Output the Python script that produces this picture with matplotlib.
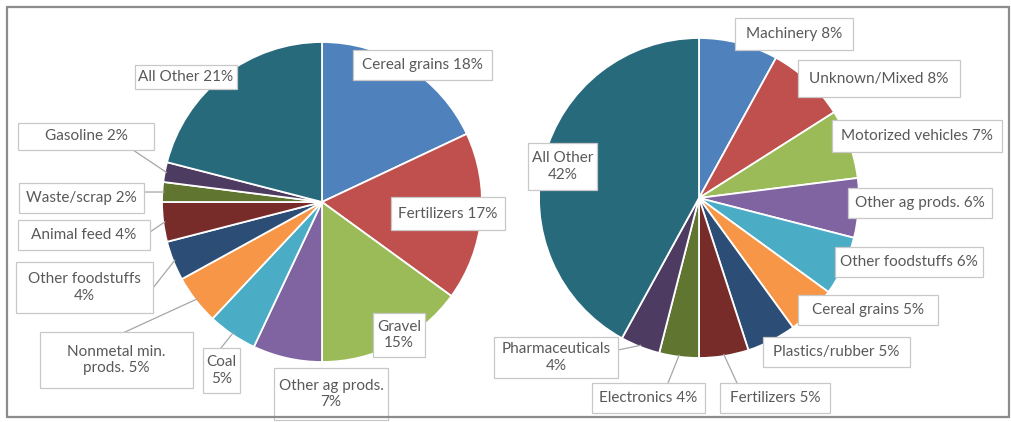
import numpy as np
import matplotlib.pyplot as plt
from matplotlib.patches import Rectangle

plt.rcParams.update({"font.family": ["Lato", "DejaVu Sans"]})
plt.rcParams.update({"font.size": 11})

# commodity shares, left and right pies (clockwise from 12 o'clock)
left_names = [
    "Cereal grains", "Fertilizers", "Gravel", "Other ag prods.", "Coal",
    "Nonmetal min.\nprods.", "Other foodstuffs", "Animal feed",
    "Waste/scrap", "Gasoline", "All Other",
]
left_values = [18, 17, 15, 7, 5, 5, 4, 4, 2, 2, 21]

right_names = [
    "Machinery", "Unknown/Mixed", "Motorized vehicles", "Other ag prods.",
    "Other foodstuffs", "Cereal grains", "Plastics/rubber", "Fertilizers",
    "Electronics", "Pharmaceuticals", "All Other",
]
right_values = [8, 8, 7, 6, 6, 5, 5, 5, 4, 4, 42]

colors = [
    "#4F81BD", "#C0504D", "#9BBB59", "#8064A2", "#4BACC6", "#F79646",
    "#2C4D75", "#772C2A", "#5F7530", "#4D3B62", "#276A7C",
]

W, H = 1011, 422

# label boxes in pixels (x0, y0 from top, x1, y1), value on new line?, leader start
left_boxes = [
    (353, 50, 492, 80, False, None),
    (391, 197, 505, 230, False, None),
    (373, 313, 425, 357, True, None),
    (274, 368, 388, 420, True, None),
    (203, 348, 240, 393, True, (221, 348)),
    (40, 332, 193, 388, False, (125, 332)),
    (16, 262, 153, 313, True, (153, 288)),
    (18, 220, 150, 250, False, (150, 232)),
    (19, 183, 144, 213, False, (144, 192)),
    (18, 123, 154, 150, False, (133, 150)),
    (135, 65, 237, 89, False, None),
]
right_boxes = [
    (735, 18, 853, 50, False, None),
    (798, 60, 960, 97, False, None),
    (832, 120, 1002, 152, False, None),
    (848, 188, 992, 218, False, None),
    (835, 247, 983, 277, False, None),
    (798, 295, 938, 325, False, None),
    (763, 337, 910, 367, False, None),
    (720, 383, 830, 413, False, (737, 383)),
    (592, 383, 705, 413, False, (668, 383)),
    (494, 337, 618, 378, True, (618, 350)),
    (528, 143, 597, 190, True, None),
]


def up(y):
    return H - y


fig = plt.figure(figsize=(W / 100, H / 100), dpi=100)
ax = fig.add_axes([0, 0, 1, 1])


def draw_pie(values, names, boxes, center, radius):
    wedges, _ = ax.pie(
        values,
        colors=colors,
        startangle=90,
        counterclock=False,
        center=(center[0], up(center[1])),
        radius=radius,
        wedgeprops=dict(edgecolor="white", linewidth=1.3),
    )
    for wedge, name, v, box in zip(wedges, names, values, boxes):
        x0, y0, x1, y1, wrap, anchor = box
        if anchor is not None:
            mid = np.deg2rad((wedge.theta1 + wedge.theta2) / 2)
            ex = center[0] + radius * 0.99 * np.cos(mid)
            ey = up(center[1]) + radius * 0.99 * np.sin(mid)
            ax.plot([anchor[0], ex], [up(anchor[1]), ey],
                    color="#a6a6a6", lw=0.9, zorder=3)
        ax.add_patch(Rectangle((x0, up(y1)), x1 - x0, y1 - y0,
                               fc="white", ec="#c8c8c8", lw=0.9, zorder=4))
        text = name + ("\n" if wrap else " ") + f"{v}%"
        ax.text((x0 + x1) / 2, up((y0 + y1) / 2), text, ha="center",
                va="center", color="#595959", linespacing=1.25, zorder=5)


draw_pie(left_values, left_names, left_boxes, (322, 202), 160)
draw_pie(right_values, right_names, right_boxes, (699, 198), 160)

# outer frame
ax.add_patch(Rectangle((7, up(417)), 1002, 410, fill=False,
                       ec="#8c8c8c", lw=1.6, zorder=10))

ax.set_xlim(0, W)
ax.set_ylim(0, H)
ax.set_aspect("auto")
ax.axis("off")

fig.savefig("out.png", dpi=100, facecolor="white")
